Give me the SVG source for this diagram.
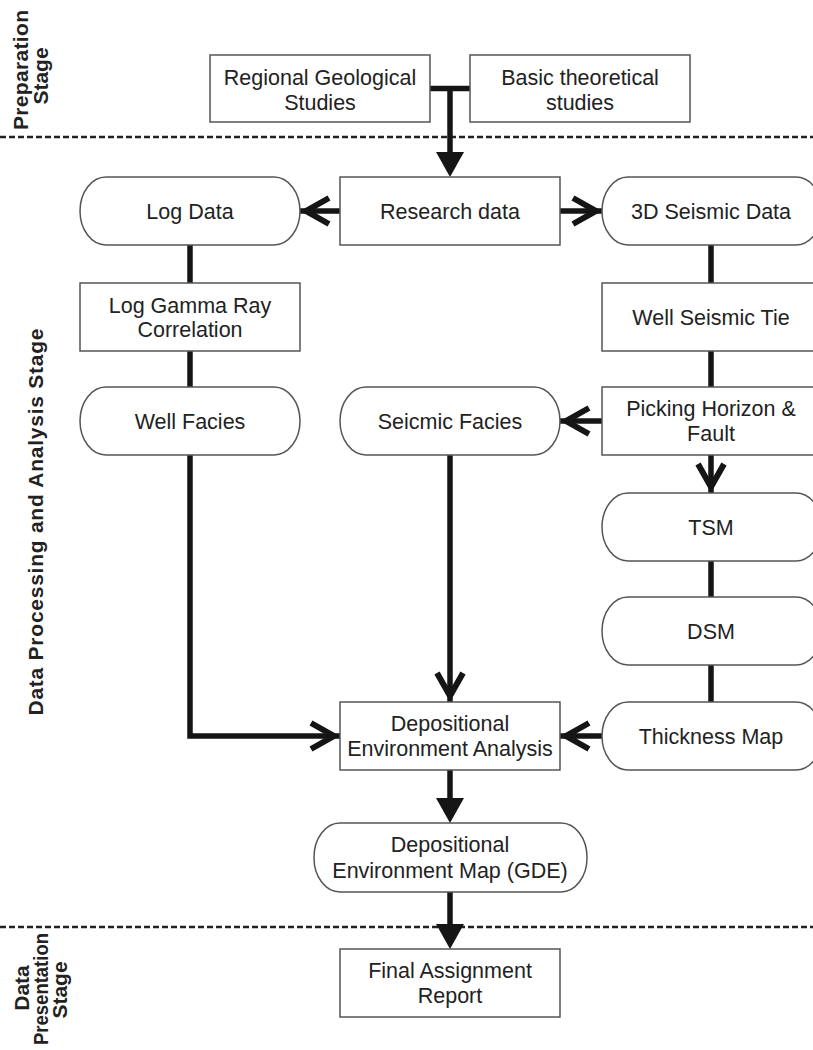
<svg xmlns="http://www.w3.org/2000/svg" width="813" height="1050" viewBox="0 0 813 1050">
<style>
.box{fill:#fff;stroke:#555;stroke-width:1.5}
.t{font-family:"Liberation Sans",Arial,sans-serif;font-size:21.5px;fill:#222;text-anchor:middle}
.lbl{font-family:"Liberation Sans",Arial,sans-serif;font-size:21px;font-weight:bold;fill:#222;text-anchor:middle}
.c{fill:none;stroke:#151515;stroke-width:5.5}
.dash{stroke:#222;stroke-width:2.5;stroke-dasharray:6 3}
</style>
<defs>
<marker id="open" markerUnits="userSpaceOnUse" markerWidth="50" markerHeight="50" viewBox="-30 -25 50 50" refX="6" refY="0" orient="auto" overflow="visible">
<path d="M-23,-13 L0,0 L-23,13" fill="none" stroke="#151515" stroke-width="6"/>
</marker>
<marker id="fill" markerUnits="userSpaceOnUse" markerWidth="50" markerHeight="50" viewBox="-30 -25 50 50" refX="-20" refY="0" orient="auto" overflow="visible">
<path d="M-25,-14 L0,0 L-25,14 Z" fill="#151515"/>
</marker>
</defs>
<rect width="813" height="1050" fill="#fff"/>

<g id="stages">
<line class="dash" x1="0" y1="137" x2="813" y2="137"/>
<line class="dash" x1="0" y1="927" x2="813" y2="927"/>
<text class="lbl" transform="translate(28,70) rotate(-90)" textLength="120" lengthAdjust="spacing">Preparation</text>
<text class="lbl" transform="translate(48,76) rotate(-90)">Stage</text>
<text class="lbl" transform="translate(43,522) rotate(-90)" textLength="387" lengthAdjust="spacing">Data Processing and Analysis Stage</text>
<text class="lbl" transform="translate(29,988) rotate(-90)">Data</text>
<text class="lbl" transform="translate(48,989) rotate(-90)" textLength="112" lengthAdjust="spacingAndGlyphs">Presentation</text>
<text class="lbl" transform="translate(67,990) rotate(-90)">Stage</text>
</g>

<g id="connectors">
<path class="c" d="M430,88.5 H470"/>
<path class="c" d="M450,88.5 V157" marker-end="url(#fill)"/>
<path class="c" d="M340,211 H300" marker-end="url(#open)"/>
<path class="c" d="M560,211 H602" marker-end="url(#open)"/>
<path class="c" d="M190,245 V283"/>
<path class="c" d="M190,351 V387"/>
<path class="c" d="M190,455 V736 H340" marker-end="url(#open)"/>
<path class="c" d="M711,245 V283"/>
<path class="c" d="M711,351 V387"/>
<path class="c" d="M602,421 H560" marker-end="url(#open)"/>
<path class="c" d="M711,455 V493" marker-end="url(#open)"/>
<path class="c" d="M711,561 V597"/>
<path class="c" d="M711,665 V702"/>
<path class="c" d="M602,736 H560" marker-end="url(#open)"/>
<path class="c" d="M450,455 V702" marker-end="url(#open)"/>
<path class="c" d="M450,770 V803" marker-end="url(#fill)"/>
<path class="c" d="M450,892 V929" marker-end="url(#fill)"/>
</g>

<g id="regional">
<rect class="box" x="210" y="55" width="220" height="67"/>
<text class="t" x="320" y="85">Regional Geological</text>
<text class="t" x="320" y="110">Studies</text>
</g>
<g id="basic">
<rect class="box" x="470" y="55" width="220" height="67"/>
<text class="t" x="580" y="85">Basic theoretical</text>
<text class="t" x="580" y="110">studies</text>
</g>
<g id="research">
<rect class="box" x="340" y="177" width="220" height="68"/>
<text class="t" x="450" y="219">Research data</text>
</g>
<g id="logdata">
<rect class="box" x="80" y="177" width="220" height="68" rx="26" ry="34"/>
<text class="t" x="190" y="219">Log Data</text>
</g>
<g id="seismic3d">
<rect class="box" x="602" y="177" width="220" height="68" rx="26" ry="34"/>
<text class="t" x="711" y="219">3D Seismic Data</text>
</g>
<g id="gamma">
<rect class="box" x="80" y="283" width="220" height="68"/>
<text class="t" x="190" y="313">Log Gamma Ray</text>
<text class="t" x="190" y="337">Correlation</text>
</g>
<g id="tie">
<rect class="box" x="602" y="283" width="220" height="68"/>
<text class="t" x="711" y="325">Well Seismic Tie</text>
</g>
<g id="wellfacies">
<rect class="box" x="80" y="387" width="220" height="68" rx="26" ry="34"/>
<text class="t" x="190" y="429">Well Facies</text>
</g>
<g id="seicmicfacies">
<rect class="box" x="340" y="387" width="220" height="68" rx="26" ry="34"/>
<text class="t" x="450" y="429">Seicmic Facies</text>
</g>
<g id="picking">
<rect class="box" x="602" y="387" width="220" height="68"/>
<text class="t" x="711" y="416">Picking Horizon &amp;</text>
<text class="t" x="711" y="441">Fault</text>
</g>
<g id="tsm">
<rect class="box" x="602" y="493" width="220" height="68" rx="26" ry="34"/>
<text class="t" x="711" y="535">TSM</text>
</g>
<g id="dsm">
<rect class="box" x="602" y="597" width="220" height="68" rx="26" ry="34"/>
<text class="t" x="711" y="639">DSM</text>
</g>
<g id="thickness">
<rect class="box" x="602" y="702" width="220" height="68" rx="26" ry="34"/>
<text class="t" x="711" y="744">Thickness Map</text>
</g>
<g id="analysis">
<rect class="box" x="340" y="702" width="220" height="68"/>
<text class="t" x="450" y="731">Depositional</text>
<text class="t" x="450" y="756">Environment Analysis</text>
</g>
<g id="map">
<rect class="box" x="314" y="823" width="273" height="69" rx="26" ry="34"/>
<text class="t" x="450" y="852">Depositional</text>
<text class="t" x="450" y="878">Environment Map (GDE)</text>
</g>
<g id="final">
<rect class="box" x="340" y="949" width="220" height="68"/>
<text class="t" x="450" y="978">Final Assignment</text>
<text class="t" x="450" y="1003">Report</text>
</g>
</svg>
